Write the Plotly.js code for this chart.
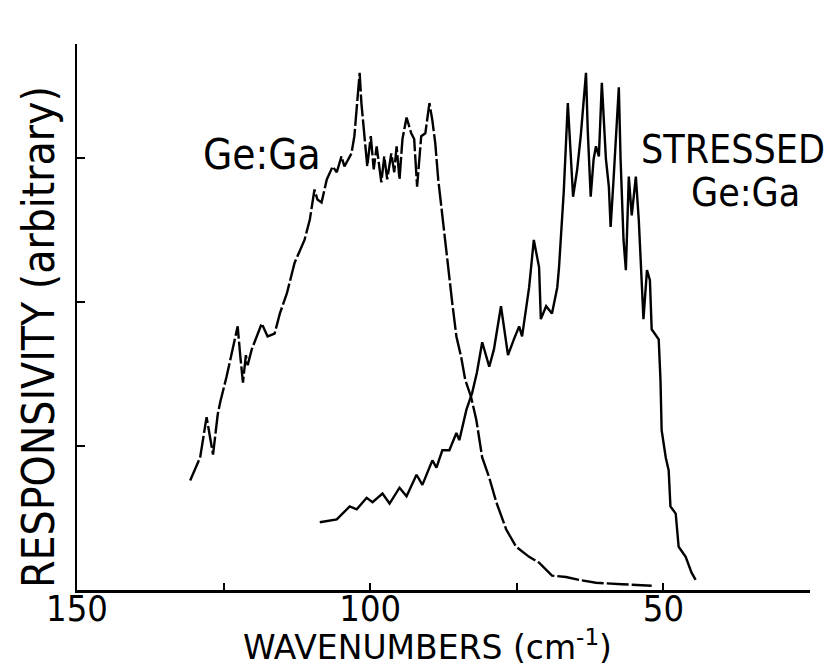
<!DOCTYPE html>
<html>
<head>
<meta charset="utf-8">
<script src="https://cdn.plot.ly/plotly-3.0.1.min.js"></script>
<style>html,body{margin:0;padding:0;background:#fff;}#chart{width:830px;height:668px;}</style>
</head>
<body>
<div id="chart"></div>
<script>
// Ge:Ga (unstressed) response, wavenumber (cm^-1) vs responsivity (arbitrary)
const geGaX = [130.7,129.0,127.9,127.3,126.8,126.0,125.6,124.5,123.4,122.6,122.1,121.7,121.2,120.9,120.2,119.3,118.5,117.5,116.3,115.4,114.2,112.9,112.0,111.2,110.3,109.5,109.0,108.3,107.4,106.4,105.7,104.9,104.4,103.2,102.7,102.2,101.8,101.5,101.0,100.5,99.9,99.4,98.9,98.1,97.6,97.1,96.4,95.9,95.5,95.0,94.5,93.8,93.0,92.5,92.0,91.3,90.6,89.9,89.4,88.9,88.4,87.7,87.0,86.5,86.0,85.3,84.5,83.8,82.8,81.9,80.9,79.7,78.5,76.8,75.1,72.9,71.2,69.0,66.6,64.4,61.5,57.1,52.0];
const geGaY = [0.76,0.92,1.20,1.04,0.94,1.22,1.30,1.48,1.67,1.83,1.60,1.44,1.63,1.56,1.67,1.77,1.85,1.76,1.78,1.92,2.06,2.27,2.36,2.43,2.57,2.78,2.71,2.69,2.85,2.94,2.90,3.01,2.94,3.03,3.15,3.40,3.59,3.38,3.13,2.94,3.15,2.92,3.08,2.83,3.01,2.85,3.03,2.90,3.08,2.85,3.13,3.28,3.17,3.13,2.80,3.15,3.17,3.38,3.26,3.10,2.85,2.59,2.36,2.15,1.99,1.76,1.62,1.46,1.34,1.18,0.92,0.78,0.61,0.42,0.30,0.23,0.19,0.10,0.09,0.07,0.05,0.04,0.03];

// Stressed Ge:Ga response
const stressedX = [108.6,105.7,103.5,102.3,100.6,99.6,97.9,96.7,95.0,93.8,92.1,91.1,89.4,88.7,87.7,86.5,85.3,84.8,83.6,82.6,81.8,80.9,79.7,78.9,77.7,76.5,75.5,74.6,74.1,73.4,72.9,72.1,71.2,70.9,70.0,69.0,68.1,67.8,67.0,66.3,65.9,65.4,64.7,64.1,63.2,62.9,62.4,61.9,61.5,61.0,60.5,59.8,59.3,59.0,58.5,57.6,57.3,56.8,56.4,55.9,55.4,54.7,54.2,53.7,53.4,52.8,52.3,52.0,50.8,50.5,50.3,49.6,49.1,48.8,47.9,47.4,46.2,45.2,44.5];
const stressedY = [0.47,0.49,0.58,0.56,0.64,0.61,0.67,0.60,0.71,0.65,0.80,0.73,0.90,0.85,0.97,0.97,1.09,1.04,1.25,1.37,1.51,1.72,1.55,1.67,1.97,1.63,1.74,1.83,1.76,1.94,2.10,2.43,2.24,1.88,1.97,1.92,2.10,2.24,2.76,3.38,3.06,2.73,2.92,3.15,3.59,3.19,2.73,2.99,3.08,3.01,3.52,2.99,2.80,2.52,2.85,3.49,2.99,2.43,2.22,2.87,2.60,2.87,2.57,2.15,1.88,2.22,2.15,1.81,1.74,1.46,1.11,0.92,0.83,0.58,0.53,0.30,0.23,0.12,0.07];

const yTickVals = [1,2,3,3.79];

const FONT = 'DejaVu Sans Condensed, DejaVu Sans, sans-serif';
const FONT_WIDE = 'DejaVu Sans, sans-serif';

const traces = [
  {x: geGaX, y: geGaY, type: 'scatter', mode: 'lines', name: 'Ge:Ga',
   line: {color: '#000', width: 2.4, dash: '22px,3px'}, showlegend: false, hoverinfo: 'skip'},
  {x: stressedX, y: stressedY, type: 'scatter', mode: 'lines', name: 'Stressed Ge:Ga',
   line: {color: '#000', width: 2.4}, showlegend: false, hoverinfo: 'skip'}
];

const plotW = 830 - 77 - 20, plotH = 668 - 44 - 78;
const px2paperX = p => (p - 77) / plotW;
const py2paperY = p => (590 - p) / plotH;

const layout = {
  width: 830, height: 668,
  margin: {l: 77, r: 20, t: 44, b: 78},
  paper_bgcolor: '#fff', plot_bgcolor: '#fff',
  font: {family: FONT, color: '#000'},
  xaxis: {
    range: [150, 25], showgrid: false, zeroline: false,
    showline: true, linecolor: '#000', linewidth: 2.5,
    tickmode: 'linear', tick0: 50, dtick: 50,
    ticks: 'inside', ticklen: 7, tickwidth: 2, tickcolor: '#000',
    ticklabelstandoff: -15,
    minor: {dtick: 25, tick0: 25, ticks: 'inside', ticklen: 7, tickwidth: 2, tickcolor: '#000', showgrid: false},
    tickfont: {family: FONT, size: 36, color: '#000'}
  },
  yaxis: {
    range: [0, 3.79], showgrid: false, zeroline: false,
    showline: true, linecolor: '#000', linewidth: 2.5,
    ticks: 'inside', ticklen: 8, tickwidth: 2, tickcolor: '#000',
    tickmode: 'array', tickvals: yTickVals, showticklabels: false
  },
  annotations: [
    {x: 118.5, y: 3.02, xref: 'x', yref: 'y', text: 'Ge:Ga', showarrow: false,
     xanchor: 'center', yanchor: 'middle',
     font: {family: FONT, size: 42, color: '#000'}},
    {x: 38.2, y: 3.06, xref: 'x', yref: 'y', text: 'STRESSED', showarrow: false,
     xanchor: 'center', yanchor: 'middle',
     font: {family: FONT, size: 39, color: '#000'}},
    {x: 36.0, y: 2.76, xref: 'x', yref: 'y', text: 'Ge:Ga', showarrow: false,
     xanchor: 'center', yanchor: 'middle',
     font: {family: FONT, size: 39, color: '#000'}},
    {x: px2paperX(427), y: py2paperY(645), xref: 'paper', yref: 'paper',
     text: 'WAVENUMBERS (cm<sup>-1</sup>)', showarrow: false,
     xanchor: 'center', yanchor: 'middle',
     font: {family: FONT_WIDE, size: 33, color: '#000'}},
    {x: px2paperX(38), y: py2paperY(337), xref: 'paper', yref: 'paper',
     text: 'RESPONSIVITY (arbitrary)', textangle: -90, showarrow: false,
     xanchor: 'center', yanchor: 'middle',
     font: {family: FONT, size: 44, color: '#000'}}
  ]
};

Plotly.newPlot('chart', traces, layout, {displayModeBar: false, staticPlot: true});
</script>
</body>
</html>
